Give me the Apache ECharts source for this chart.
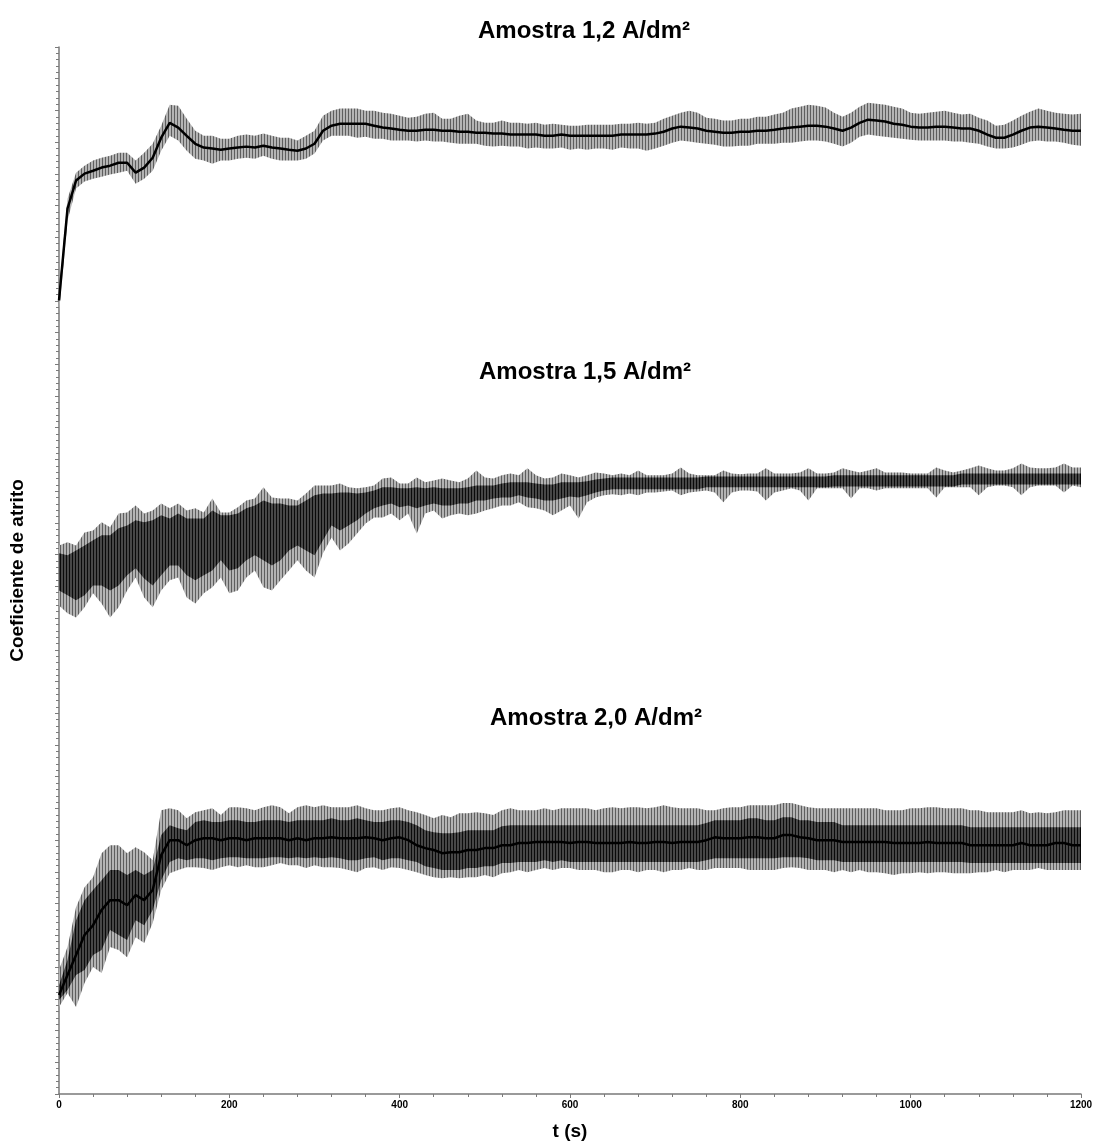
<!DOCTYPE html>
<html><head><meta charset="utf-8">
<script src="https://cdn.jsdelivr.net/npm/echarts@6/dist/echarts.min.js"></script>
<style>html,body{margin:0;padding:0;background:#fff}#c{width:1099px;height:1142px}</style>
</head><body><div id="c"></div>
<script>
// time grid (s), one sample every 10 s
const tSec = [0,10,20,30,40,50,60,70,80,90,100,110,120,130,140,150,160,170,180,190,200,210,220,230,240,250,260,270,280,290,300,310,320,330,340,350,360,370,380,390,400,410,420,430,440,450,460,470,480,490,500,510,520,530,540,550,560,570,580,590,600,610,620,630,640,650,660,670,680,690,700,710,720,730,740,750,760,770,780,790,800,810,820,830,840,850,860,870,880,890,900,910,920,930,940,950,960,970,980,990,1000,1010,1020,1030,1040,1050,1060,1070,1080,1090,1100,1110,1120,1130,1140,1150,1160,1170,1180,1190,1200];
const xTicks = [0,200,400,600,800,1000,1200];
const titles = ['Amostra 1,2 A/dm²','Amostra 1,5 A/dm²','Amostra 2,0 A/dm²'];

// Amostra 1,2 : envelope (upper / lower) and mean
const hi1 = [25.32,28.22,29.04,29.26,29.42,29.51,29.57,29.67,29.67,29.42,
29.67,29.95,30.52,31.18,31.15,30.74,30.36,30.20,30.20,30.11,
30.11,30.20,30.24,30.20,30.27,30.20,30.14,30.14,30.05,30.20,
30.36,30.83,30.99,31.06,31.06,31.06,30.99,30.99,30.93,30.90,
30.83,30.77,30.80,30.90,30.93,30.74,30.74,30.83,30.90,30.68,
30.61,30.61,30.68,30.61,30.61,30.58,30.61,30.55,30.58,30.55,
30.52,30.52,30.55,30.55,30.55,30.55,30.58,30.58,30.61,30.58,
30.61,30.74,30.83,30.93,30.99,30.93,30.77,30.74,30.68,30.68,
30.74,30.74,30.80,30.80,30.87,30.93,31.06,31.12,31.18,31.15,
31.09,30.93,30.80,30.93,31.12,31.24,31.21,31.18,31.12,31.06,
30.93,30.90,30.93,30.96,30.99,30.93,30.87,30.90,30.77,30.68,
30.52,30.55,30.68,30.83,30.96,31.06,30.99,30.93,30.90,30.87,
30.90];
const lo1 = [24.63,27.53,28.54,28.76,28.85,28.91,28.98,29.04,29.10,28.69,
28.85,29.10,29.73,30.20,30.05,29.73,29.48,29.42,29.32,29.42,
29.42,29.48,29.51,29.48,29.57,29.48,29.42,29.42,29.42,29.48,
29.64,30.05,30.20,30.20,30.20,30.14,30.17,30.11,30.11,30.05,
30.05,30.05,30.02,30.05,30.02,30.02,29.98,29.95,29.95,29.95,
29.89,29.86,29.89,29.86,29.86,29.80,29.83,29.80,29.80,29.83,
29.76,29.80,29.76,29.80,29.80,29.76,29.83,29.80,29.80,29.73,
29.80,29.89,29.98,30.05,30.02,29.98,29.95,29.92,29.86,29.86,
29.89,29.89,29.95,29.95,29.95,29.98,29.98,30.02,30.05,30.05,
30.02,29.95,29.86,29.98,30.17,30.24,30.20,30.17,30.14,30.11,
30.08,30.05,30.05,30.05,30.05,30.02,30.02,29.98,29.95,29.86,
29.80,29.80,29.83,29.92,30.02,30.05,30.02,30.02,29.98,29.92,
29.89];
const mid1 = [25.01,27.91,28.79,29.01,29.10,29.20,29.26,29.35,29.35,29.04,
29.20,29.51,30.14,30.61,30.46,30.20,29.95,29.83,29.80,29.76,
29.80,29.83,29.86,29.83,29.89,29.83,29.80,29.76,29.73,29.80,
29.95,30.36,30.52,30.58,30.58,30.58,30.58,30.52,30.46,30.43,
30.39,30.36,30.36,30.39,30.39,30.36,30.36,30.33,30.33,30.30,
30.30,30.27,30.27,30.24,30.24,30.24,30.24,30.20,30.20,30.24,
30.20,30.20,30.20,30.20,30.20,30.20,30.24,30.24,30.24,30.24,
30.27,30.33,30.43,30.49,30.46,30.43,30.36,30.33,30.30,30.30,
30.33,30.33,30.36,30.36,30.39,30.43,30.46,30.49,30.52,30.52,
30.49,30.43,30.36,30.46,30.61,30.71,30.68,30.65,30.58,30.55,
30.49,30.46,30.46,30.49,30.49,30.46,30.43,30.43,30.36,30.24,
30.14,30.14,30.24,30.36,30.46,30.49,30.46,30.43,30.39,30.36,
30.36];

// Amostra 1,5 : outer envelope and dense core
const hi2 = [17.29,17.39,17.29,17.70,17.76,18.02,17.86,18.30,18.33,18.55,
18.30,18.39,18.61,18.46,18.61,18.39,18.46,18.33,18.77,18.33,
18.33,18.49,18.71,18.77,19.12,18.80,18.77,18.77,18.71,18.93,
19.18,19.18,19.18,19.24,19.12,19.09,19.12,19.18,19.40,19.43,
19.24,19.24,19.43,19.28,19.34,19.40,19.34,19.28,19.40,19.65,
19.43,19.40,19.50,19.56,19.50,19.72,19.50,19.40,19.43,19.56,
19.50,19.43,19.50,19.59,19.56,19.50,19.56,19.50,19.65,19.50,
19.50,19.50,19.56,19.75,19.56,19.50,19.50,19.50,19.65,19.56,
19.53,19.56,19.56,19.72,19.56,19.56,19.56,19.59,19.72,19.56,
19.56,19.59,19.72,19.65,19.59,19.65,19.72,19.59,19.59,19.59,
19.56,19.56,19.56,19.75,19.65,19.59,19.65,19.72,19.81,19.72,
19.65,19.65,19.72,19.87,19.75,19.72,19.72,19.75,19.87,19.75,
19.75];
const lo2 = [15.40,15.15,15.02,15.34,15.78,15.46,15.02,15.34,15.87,16.28,
15.65,15.34,15.87,16.19,16.28,15.65,15.46,15.78,15.97,16.28,
15.78,15.87,16.28,16.50,15.97,15.87,16.19,16.50,16.82,16.50,
16.28,17.04,17.54,17.13,17.35,17.67,17.98,18.17,18.17,18.30,
18.08,18.30,17.67,18.30,18.39,18.14,18.24,18.30,18.24,18.30,
18.39,18.46,18.55,18.55,18.65,18.49,18.46,18.39,18.24,18.39,
18.55,18.14,18.65,18.80,18.87,18.90,18.87,18.93,18.87,18.96,
18.96,18.99,19.02,18.87,18.96,18.99,19.02,18.96,18.65,18.96,
19.02,19.02,18.99,18.71,18.96,19.02,19.09,19.02,18.71,19.09,
19.09,19.09,19.09,18.77,19.09,19.09,19.02,19.09,19.09,19.09,
19.09,19.09,19.09,18.80,19.12,19.12,19.12,19.12,18.87,19.12,
19.18,19.18,19.12,18.87,19.12,19.18,19.18,19.18,18.96,19.18,
19.12];
const coreHi2 = [17.04,16.98,17.13,17.29,17.45,17.61,17.61,17.83,17.92,18.08,
18.02,18.08,18.24,18.14,18.30,18.14,18.14,18.14,18.39,18.24,
18.24,18.30,18.46,18.55,18.71,18.61,18.61,18.55,18.55,18.71,
18.87,18.93,18.93,18.96,18.96,18.93,18.96,19.02,19.12,19.12,
19.09,19.09,19.12,19.09,19.12,19.09,19.09,19.09,19.12,19.18,
19.18,19.18,19.24,19.28,19.28,19.28,19.24,19.21,19.21,19.28,
19.28,19.28,19.31,19.37,19.40,19.43,19.43,19.43,19.43,19.43,
19.43,19.43,19.43,19.43,19.43,19.43,19.46,19.46,19.46,19.46,
19.46,19.46,19.46,19.46,19.46,19.46,19.46,19.46,19.46,19.46,
19.46,19.50,19.50,19.50,19.50,19.50,19.50,19.50,19.50,19.50,
19.50,19.50,19.50,19.50,19.50,19.50,19.56,19.56,19.56,19.56,
19.56,19.56,19.56,19.56,19.56,19.56,19.56,19.56,19.56,19.56,
19.56];
const coreLo2 = [15.87,15.72,15.56,15.72,16.03,16.03,15.87,16.03,16.35,16.57,
16.25,16.03,16.35,16.66,16.66,16.35,16.19,16.35,16.50,16.82,
16.50,16.57,16.82,16.98,16.82,16.66,16.82,17.13,17.29,17.13,
16.98,17.45,17.92,17.76,17.92,18.08,18.30,18.46,18.55,18.61,
18.49,18.55,18.46,18.55,18.61,18.55,18.55,18.61,18.61,18.71,
18.71,18.77,18.80,18.80,18.87,18.80,18.77,18.71,18.71,18.77,
18.83,18.80,18.87,18.96,19.02,19.06,19.06,19.06,19.06,19.06,
19.06,19.06,19.06,19.06,19.06,19.06,19.12,19.12,19.12,19.12,
19.12,19.12,19.12,19.12,19.12,19.12,19.12,19.12,19.12,19.12,
19.12,19.15,19.15,19.15,19.15,19.15,19.15,19.15,19.15,19.15,
19.15,19.15,19.15,19.15,19.15,19.15,19.21,19.21,19.21,19.21,
19.21,19.21,19.21,19.21,19.21,19.21,19.21,19.21,19.21,19.21,
19.21];

// Amostra 2,0 : outer envelope, core and mean
const hi3 = [3.91,4.63,5.89,6.52,6.83,7.59,7.84,7.84,7.59,7.78,
7.62,7.37,8.94,9.01,8.94,8.69,8.88,8.94,9.01,8.79,
9.04,9.04,9.01,8.94,9.04,9.10,9.04,8.85,9.04,9.10,
9.04,9.10,9.04,9.04,9.04,9.10,9.01,8.94,8.94,9.01,
9.04,8.94,8.88,8.79,8.69,8.79,8.72,8.85,8.85,8.88,
8.85,8.79,8.94,9.01,8.94,8.94,8.94,9.01,8.94,9.01,
9.01,9.01,9.01,8.94,9.01,9.04,9.01,9.04,9.04,9.01,
9.04,9.10,9.04,9.01,9.01,9.01,8.94,8.94,9.01,9.04,
9.04,9.10,9.10,9.10,9.10,9.17,9.17,9.10,9.04,9.01,
9.01,9.01,9.01,9.01,9.01,9.01,9.01,8.94,8.94,8.94,
9.01,9.01,9.04,9.04,9.01,9.01,9.01,8.94,8.94,8.88,
8.88,8.88,8.88,8.94,8.85,8.88,8.85,8.88,8.94,8.94,
8.94];
const lo3 = [2.74,3.18,2.74,3.50,4.00,3.81,4.63,4.54,4.31,4.94,
4.76,5.39,6.43,6.96,7.06,7.15,7.15,7.12,7.06,7.15,
7.21,7.15,7.21,7.15,7.15,7.21,7.28,7.21,7.21,7.12,
7.21,7.15,7.15,7.12,7.06,6.99,7.12,7.15,7.06,7.15,
7.12,7.06,6.99,6.90,6.83,6.80,6.83,6.80,6.83,6.83,
6.90,6.83,6.96,6.99,7.06,6.99,7.06,7.12,7.06,7.12,
7.12,7.06,7.06,7.06,6.99,6.99,7.06,7.06,6.99,7.06,
7.06,6.99,7.06,7.06,7.12,7.06,7.06,7.12,7.12,7.12,
7.12,7.06,7.06,7.06,7.06,7.12,7.15,7.12,7.06,7.06,
7.06,6.99,7.06,6.99,7.06,6.99,6.99,6.96,6.90,6.96,
6.96,6.99,6.96,6.99,6.99,6.96,6.96,6.96,6.99,6.99,
7.06,6.99,7.06,7.06,7.06,7.12,7.06,7.06,7.06,7.06,
7.06];
const coreHi3 = [3.43,4.22,5.48,6.11,6.43,6.74,7.06,7.06,6.90,7.06,
6.90,7.06,8.16,8.47,8.38,8.31,8.57,8.63,8.57,8.57,
8.63,8.63,8.57,8.57,8.63,8.63,8.63,8.57,8.63,8.63,
8.63,8.63,8.69,8.63,8.63,8.69,8.63,8.57,8.57,8.63,
8.63,8.57,8.47,8.31,8.25,8.22,8.22,8.25,8.31,8.31,
8.31,8.31,8.44,8.47,8.47,8.47,8.47,8.47,8.47,8.47,
8.47,8.47,8.47,8.47,8.47,8.47,8.47,8.47,8.47,8.47,
8.47,8.47,8.47,8.47,8.47,8.47,8.54,8.63,8.63,8.63,
8.63,8.69,8.69,8.63,8.63,8.72,8.72,8.63,8.63,8.57,
8.57,8.57,8.47,8.47,8.47,8.47,8.47,8.47,8.47,8.47,
8.47,8.47,8.47,8.47,8.47,8.47,8.47,8.41,8.41,8.41,
8.41,8.41,8.41,8.41,8.41,8.41,8.41,8.41,8.41,8.41,
8.41];
const coreLo3 = [2.96,3.28,3.75,3.91,4.38,4.54,5.17,5.01,4.85,5.48,
5.32,5.80,6.74,7.31,7.43,7.37,7.43,7.43,7.37,7.43,
7.46,7.46,7.43,7.43,7.43,7.46,7.46,7.43,7.46,7.43,
7.46,7.43,7.46,7.43,7.37,7.37,7.43,7.46,7.37,7.43,
7.43,7.37,7.31,7.18,7.12,7.06,7.06,7.06,7.12,7.12,
7.18,7.18,7.28,7.28,7.31,7.31,7.31,7.37,7.31,7.37,
7.31,7.31,7.31,7.31,7.31,7.31,7.31,7.31,7.31,7.31,
7.31,7.31,7.31,7.31,7.31,7.31,7.37,7.43,7.43,7.43,
7.43,7.43,7.43,7.43,7.43,7.46,7.46,7.46,7.43,7.37,
7.37,7.37,7.31,7.31,7.31,7.31,7.31,7.31,7.31,7.31,
7.31,7.31,7.31,7.31,7.31,7.31,7.31,7.28,7.28,7.28,
7.28,7.28,7.28,7.28,7.28,7.28,7.28,7.28,7.28,7.28,
7.28];
const mid3 = [3.12,3.75,4.38,5.01,5.32,5.80,6.11,6.11,5.95,6.27,
6.11,6.43,7.53,8.00,8.00,7.84,8.00,8.06,8.06,8.00,
8.06,8.06,8.00,8.06,8.06,8.06,8.06,8.00,8.06,8.00,
8.06,8.06,8.09,8.06,8.06,8.06,8.09,8.06,8.00,8.06,
8.09,8.00,7.84,7.75,7.69,7.59,7.62,7.62,7.69,7.69,
7.75,7.75,7.84,7.84,7.91,7.91,7.94,7.94,7.94,7.94,
7.91,7.94,7.94,7.91,7.91,7.91,7.91,7.94,7.91,7.91,
7.94,7.94,7.91,7.94,7.94,7.94,8.00,8.09,8.06,8.06,
8.06,8.09,8.09,8.06,8.06,8.16,8.16,8.09,8.06,8.00,
8.00,8.00,7.94,7.94,7.94,7.94,7.94,7.94,7.91,7.91,
7.91,7.91,7.94,7.91,7.91,7.91,7.91,7.84,7.84,7.84,
7.84,7.84,7.84,7.91,7.84,7.84,7.84,7.91,7.91,7.84,
7.84];

function stripes(dark, light, period) {
  const c = document.createElement('canvas');
  c.width = period; c.height = 2;
  const g = c.getContext('2d');
  g.fillStyle = light; g.fillRect(0, 0, period, 2);
  g.fillStyle = dark; g.fillRect(0, 0, 1, 2);
  return { image: c, repeat: 'repeat' };
}
const outerFill = stripes('#5e5e5e', '#b4b4b4', 3);
const coreFill = stripes('#0a0a0a', '#474747', 3);

// band polygon drawn through the axes' scales (custom series)
function band(lo, hi, fill, z) {
  return {
    type: 'custom', silent: true, z: z, clip: true,
    data: tSec.map((t, i) => [t, lo[i], hi[i]]),
    encode: { x: 0, y: [1, 2] },
    renderItem: function (params, api) {
      if (params.dataIndex !== 0) return null;
      const pts = [];
      for (let i = 0; i < tSec.length; i++) pts.push(api.coord([tSec[i], hi[i]]));
      for (let i = tSec.length - 1; i >= 0; i--) pts.push(api.coord([tSec[i], lo[i]]));
      return { type: 'polygon', shape: { points: pts }, style: { fill: fill, stroke: null } };
    }
  };
}
function meanLine(arr, w, z) {
  return { type: 'line', data: tSec.map((t, i) => [t, arr[i]]), symbol: 'none', silent: true,
    lineStyle: { color: '#000', width: w }, z: z };
}

const series = [
  band(lo1, hi1, outerFill, 2),
  meanLine(mid1, 2.5, 5),
  band(lo2, hi2, outerFill, 2),
  band(coreLo2, coreHi2, coreFill, 3),
  band(lo3, hi3, outerFill, 2),
  band(coreLo3, coreHi3, coreFill, 3),
  meanLine(mid3, 2.5, 5)
];

const chart = echarts.init(document.getElementById('c'), null, { renderer: 'canvas' });
chart.setOption({
  animation: false,
  backgroundColor: '#fff',
  grid: { left: 59, right: 18, top: 47, bottom: 48, containLabel: false, outerBoundsMode: 'none' },
  xAxis: {
    type: 'value', min: xTicks[0], max: xTicks[xTicks.length - 1], interval: 200,
    name: 't (s)', nameLocation: 'middle', nameGap: 28,
    nameTextStyle: { fontFamily: 'Liberation Sans', fontWeight: 'bold', fontSize: 19, color: '#000' },
    axisLine: { lineStyle: { color: '#7a7a7a', width: 1.5 } },
    axisTick: { length: 4, lineStyle: { color: '#7a7a7a' } },
    minorTick: { show: true, splitNumber: 5, length: 3, lineStyle: { color: '#7a7a7a' } },
    splitLine: { show: false },
    axisLabel: { margin: 6, fontFamily: 'Liberation Sans', fontWeight: 'bold', fontSize: 10, color: '#000',
      formatter: v => xTicks.indexOf(v) >= 0 ? String(v) : '' }
  },
  yAxis: {
    type: 'value', min: 0, max: 33, interval: 1,
    name: 'Coeficiente de atrito', nameLocation: 'middle', nameGap: 32,
    nameTextStyle: { fontFamily: 'Liberation Sans', fontWeight: 'bold', fontSize: 19, color: '#000' },
    axisLine: { show: true, lineStyle: { color: '#7a7a7a', width: 1.5 } },
    axisTick: { show: true, length: 4, lineStyle: { color: '#7a7a7a' } },
    minorTick: { show: true, splitNumber: 5, length: 3, lineStyle: { color: '#7a7a7a' } },
    splitLine: { show: false },
    axisLabel: { show: false }
  },
  graphic: [
    { type: 'text', x: 584, y: 31, style: { text: titles[0], font: 'bold 24px "Liberation Sans"', fill: '#000', textAlign: 'center', textVerticalAlign: 'middle' } },
    { type: 'text', x: 585, y: 372, style: { text: titles[1], font: 'bold 24px "Liberation Sans"', fill: '#000', textAlign: 'center', textVerticalAlign: 'middle' } },
    { type: 'text', x: 596, y: 718, style: { text: titles[2], font: 'bold 24px "Liberation Sans"', fill: '#000', textAlign: 'center', textVerticalAlign: 'middle' } }
  ],
  series: series
});
</script>
</body></html>
